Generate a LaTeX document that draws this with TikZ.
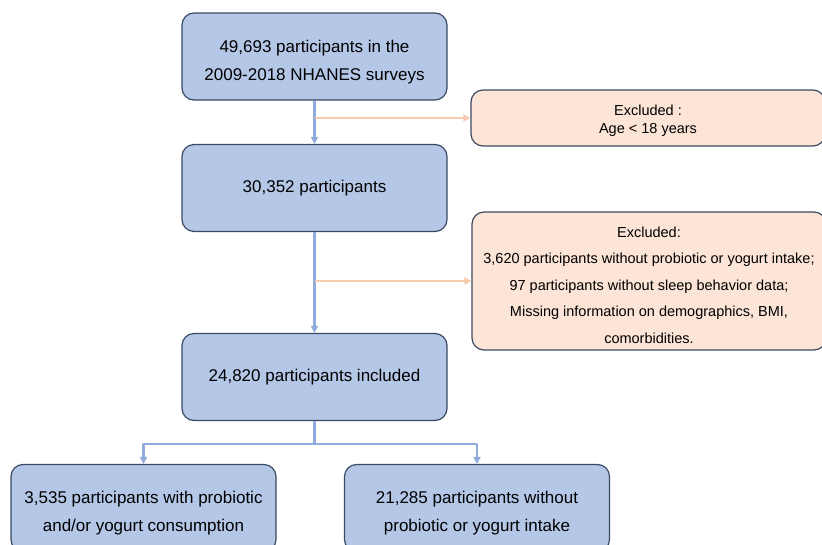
\documentclass[tikz,border=0pt]{standalone}
\usepackage{fontspec}
\setmainfont{Liberation Sans}
\usetikzlibrary{arrows.meta}
\begin{document}
\begin{tikzpicture}[x=1pt,y=-1pt,line join=round]
	\definecolor{boxblue}{HTML}{B4C7E7}
	\definecolor{linkblue}{HTML}{8FAADC}
	\definecolor{boxpeach}{HTML}{FCE4D6}
	\definecolor{linkpeach}{HTML}{F8CBAD}
	\definecolor{rimnavy}{HTML}{3B4A63}
	\tikzset{
		mainbox/.style={draw=rimnavy, line width=1.2pt, fill=boxblue, rounded corners=12pt,
			minimum width=265pt, minimum height=87pt, align=center,
			font=\fontsize{17}{28}\selectfont},
		twoline/.style={text height=47pt, text depth=0pt},
		exclbox/.style={draw=rimnavy, line width=1.2pt, fill=boxpeach, rounded corners=12pt,
			minimum width=354pt, align=center},
		downlink/.style={draw=linkblue, line width=2.4pt, -{Triangle[length=7pt,width=7pt]}},
		sidelink/.style={draw=linkpeach, line width=2.4pt, -{Triangle[length=7pt,width=7pt]}}
	}
	\clip (0,0) rectangle (822,544);
	\fill[white] (0,0) rectangle (822,544);
	
	%% main column
	\node[mainbox,twoline] (all) at (314.5,56.5) {49,693 participants in the\\2009-2018 NHANES surveys};
	\node[mainbox] (adult) at (314.5,188) {30,352 participants};
	\node[mainbox] (incl) at (314.5,377) {24,820 participants included};
	
	%% exclusions
	\node[exclbox, minimum height=56pt, text height=31pt, text depth=0pt,
		font=\fontsize{14.5}{18}\selectfont] (exa) at (648,118)
		{Excluded :\\Age < 18 years};
	\node[exclbox, minimum height=138pt, text height=124pt, text depth=0pt,
		font=\fontsize{14.5}{26.5}\selectfont] (exb) at (649,281)
		{Excluded:\\3,620 participants without probiotic or yogurt intake;\\97 participants without sleep behavior data;\\Missing information on demographics, BMI,\\comorbidities.};
	
	%% groups
	\node[mainbox,twoline] (yog) at (143.5,508) {3,535 participants with probiotic\\and/or yogurt consumption};
	\node[mainbox,twoline] (noyog) at (477,508) {21,285 participants without\\probiotic or yogurt intake};
	
	%% links
	\draw[downlink] (all) -- (adult);
	\draw[downlink] (adult) -- (incl);
	\draw[sidelink] (314.5,118) -- (exa.west);
	\draw[sidelink] (314.5,281) -- (exb.west);
	\coordinate (split) at (314.5,444);
	\draw[draw=linkblue, line width=2.4pt] (incl.south) -- (split);
	\draw[downlink] (split) -| (yog.north);
	\draw[downlink] (split) -| (noyog.north);
\end{tikzpicture}
\end{document}
